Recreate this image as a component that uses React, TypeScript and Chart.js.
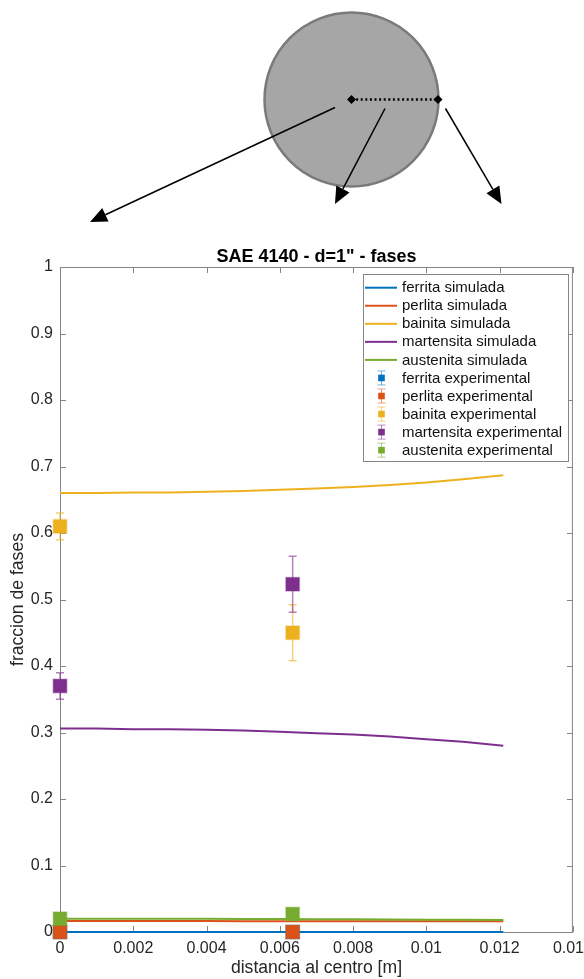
import { useEffect, useRef } from 'react';
import { Chart, registerables } from 'chart.js';

Chart.register(...registerables);

// Simulated phase fractions along the radius [m]
const distSim = [0, 0.001, 0.002, 0.003, 0.004, 0.005, 0.006, 0.007, 0.008, 0.009, 0.01, 0.011, 0.0121];
const ferritaSim = [0, 0, 0, 0, 0, 0, 0, 0, 0, 0, 0, 0, 0];
const perlitaSim = [0.0165, 0.0165, 0.0165, 0.0164, 0.0164, 0.0163, 0.0163, 0.0162, 0.0162, 0.0161, 0.016, 0.016, 0.016];
const bainitaSim = [0.66, 0.66, 0.661, 0.661, 0.662, 0.663, 0.665, 0.667, 0.669, 0.672, 0.676, 0.681, 0.687];
const martensitaSim = [0.306, 0.306, 0.305, 0.305, 0.304, 0.303, 0.301, 0.299, 0.297, 0.294, 0.29, 0.286, 0.28];
const austenitaSim = [0.02, 0.02, 0.02, 0.02, 0.0198, 0.0196, 0.0194, 0.0192, 0.019, 0.0188, 0.0186, 0.0184, 0.018];

// Measured phase fractions with their uncertainty
const distExp = [0, 0.00635];
const ferritaExp = [0, 0];
const perlitaExp = [0, 0];
const bainitaExp = [0.61, 0.45];
const martensitaExp = [0.37, 0.523];
const austenitaExp = [0.02, 0.027];
const ferritaErr = [0, 0];
const perlitaErr = [0, 0];
const bainitaErr = [0.02, 0.042];
const martensitaErr = [0.02, 0.042];
const austenitaErr = [0, 0];

const phaseNames = ['ferrita', 'perlita', 'bainita', 'martensita', 'austenita'];
const phaseColors = ['#0072BD', '#D95319', '#EDB120', '#7E2F8E', '#77AC30'];

const xTickValues = [0, 0.002, 0.004, 0.006, 0.008, 0.01, 0.012, 0.014];
const xTickLabels = ['0', '0.002', '0.004', '0.006', '0.008', '0.01', '0.012', '0.014'];
const yTickValues = [0, 0.1, 0.2, 0.3, 0.4, 0.5, 0.6, 0.7, 0.8, 0.9, 1];
const yTickLabels = ['0', '0.1', '0.2', '0.3', '0.4', '0.5', '0.6', '0.7', '0.8', '0.9', '1'];

const titleText = 'SAE 4140 - d=1" - fases';
const xTitle = 'distancia al centro [m]';
const yTitle = 'fraccion de fases';

const FONT = '"Liberation Sans", Arial, Helvetica, sans-serif';
const TEXT = '#262626';
const AXIS = '#858585';

function rgba(hex: string, a: number) {
  const n = parseInt(hex.slice(1), 16);
  return `rgba(${(n >> 16) & 255},${(n >> 8) & 255},${n & 255},${a})`;
}

function drawArrow(ctx: CanvasRenderingContext2D, x1: number, y1: number, x2: number, y2: number) {
  const len = 17;
  const half = 7.5;
  const dx = x2 - x1;
  const dy = y2 - y1;
  const d = Math.hypot(dx, dy);
  const ux = dx / d;
  const uy = dy / d;
  const bx = x2 - ux * len;
  const by = y2 - uy * len;
  ctx.beginPath();
  ctx.moveTo(x1, y1);
  ctx.lineTo(bx, by);
  ctx.strokeStyle = '#000';
  ctx.lineWidth = 1.5;
  ctx.stroke();
  ctx.beginPath();
  ctx.moveTo(x2, y2);
  ctx.lineTo(bx - uy * half, by + ux * half);
  ctx.lineTo(bx + uy * half, by - ux * half);
  ctx.closePath();
  ctx.fillStyle = '#000';
  ctx.fill();
}

function drawDiamond(ctx: CanvasRenderingContext2D, x: number, y: number, r: number) {
  ctx.beginPath();
  ctx.moveTo(x, y - r);
  ctx.lineTo(x + r, y);
  ctx.lineTo(x, y + r);
  ctx.lineTo(x - r, y);
  ctx.closePath();
  ctx.fillStyle = '#000';
  ctx.fill();
}

// Cross-section sketch above the axes: bar section, radius and pointer arrows
const sketchPlugin = {
  id: 'sketch',
  beforeDraw(chart: any) {
    const ctx: CanvasRenderingContext2D = chart.ctx;
    ctx.save();
    ctx.fillStyle = '#fff';
    ctx.fillRect(0, 0, chart.width, chart.height);
    const cx = 351.5;
    const cy = 99.5;
    ctx.beginPath();
    ctx.arc(cx, cy, 87, 0, Math.PI * 2);
    ctx.fillStyle = '#a6a6a6';
    ctx.fill();
    ctx.lineWidth = 2.5;
    ctx.strokeStyle = '#7a7a7a';
    ctx.stroke();
    ctx.beginPath();
    ctx.setLineDash([2, 2.6]);
    ctx.moveTo(cx, cy);
    ctx.lineTo(438, cy);
    ctx.lineWidth = 2.5;
    ctx.strokeStyle = '#000';
    ctx.stroke();
    ctx.setLineDash([]);
    drawDiamond(ctx, cx, cy, 4.5);
    drawDiamond(ctx, 438, cy, 4.5);
    drawArrow(ctx, 335, 107.5, 90, 222);
    drawArrow(ctx, 385, 108.5, 335, 204);
    drawArrow(ctx, 445.5, 108.5, 501.5, 204);
    ctx.restore();
  },
};

// Axes box with inward ticks (under the data), title and legend (on top)
const framePlugin = {
  id: 'frame',
  beforeDatasetsDraw(chart: any) {
    const ctx: CanvasRenderingContext2D = chart.ctx;
    const { left, right, top, bottom } = chart.chartArea;
    const xs = chart.scales.x;
    const ys = chart.scales.y;
    ctx.save();
    ctx.strokeStyle = AXIS;
    ctx.lineWidth = 1;
    ctx.strokeRect(left + 0.5, top + 0.5, right - left - 1, bottom - top);
    const tl = 6;
    ctx.beginPath();
    xTickValues.forEach((v) => {
      const px = Math.round(xs.getPixelForValue(v)) + 0.5;
      ctx.moveTo(px, bottom);
      ctx.lineTo(px, bottom - tl);
      ctx.moveTo(px, top);
      ctx.lineTo(px, top + tl);
    });
    yTickValues.forEach((v) => {
      const py = Math.round(ys.getPixelForValue(v)) + 0.5;
      ctx.moveTo(left, py);
      ctx.lineTo(left + tl, py);
      ctx.moveTo(right, py);
      ctx.lineTo(right - tl, py);
    });
    ctx.stroke();
    ctx.restore();
  },
  afterDraw(chart: any) {
    const ctx: CanvasRenderingContext2D = chart.ctx;
    const { left, right, top } = chart.chartArea;
    ctx.save();
    ctx.fillStyle = '#000';
    ctx.font = `bold 18px ${FONT}`;
    ctx.textAlign = 'center';
    ctx.textBaseline = 'alphabetic';
    ctx.fillText(titleText, (left + right) / 2, top - 5);

    // legend
    const lx = 363.5;
    const ly = 274.5;
    const lw = 205;
    const lh = 187;
    ctx.fillStyle = '#fff';
    ctx.fillRect(lx, ly, lw, lh);
    ctx.strokeStyle = AXIS;
    ctx.lineWidth = 1;
    ctx.strokeRect(lx, ly, lw, lh);
    ctx.font = `15px ${FONT}`;
    ctx.textAlign = 'left';
    ctx.textBaseline = 'middle';
    const rowH = 18.05;
    const y0 = 287.7;
    phaseNames.forEach((name, i) => {
      const y = y0 + i * rowH;
      ctx.beginPath();
      ctx.moveTo(365, y);
      ctx.lineTo(397, y);
      ctx.strokeStyle = phaseColors[i];
      ctx.lineWidth = 2;
      ctx.stroke();
      ctx.fillStyle = '#111';
      ctx.fillText(`${name} simulada`, 402, y + 0.5);
    });
    phaseNames.forEach((name, i) => {
      const y = y0 + (i + 5) * rowH;
      const mx = 381.5;
      ctx.beginPath();
      ctx.moveTo(mx, y - 7);
      ctx.lineTo(mx, y + 7);
      ctx.moveTo(mx - 4, y - 7);
      ctx.lineTo(mx + 4, y - 7);
      ctx.moveTo(mx - 4, y + 7);
      ctx.lineTo(mx + 4, y + 7);
      ctx.strokeStyle = rgba(phaseColors[i], 0.55);
      ctx.lineWidth = 1;
      ctx.stroke();
      ctx.fillStyle = phaseColors[i];
      ctx.fillRect(mx - 3.3, y - 3.3, 6.6, 6.6);
      ctx.fillStyle = '#111';
      ctx.fillText(`${name} experimental`, 402, y + 0.5);
    });
    ctx.restore();
  },
};

// Vertical error bars drawn just before each measured series
const errorBarPlugin = {
  id: 'errorBars',
  beforeDatasetDraw(chart: any, args: any) {
    const ds = chart.data.datasets[args.index];
    if (!ds.errors) return;
    const ctx: CanvasRenderingContext2D = chart.ctx;
    const xs = chart.scales.x;
    const ys = chart.scales.y;
    ctx.save();
    ctx.strokeStyle = rgba(ds.baseColor, 0.6);
    ctx.lineWidth = 1.5;
    ds.data.forEach((p: any, i: number) => {
      const e = ds.errors[i];
      if (!e) return;
      const px = xs.getPixelForValue(p.x);
      const yt = ys.getPixelForValue(p.y + e);
      const yb = ys.getPixelForValue(p.y - e);
      ctx.beginPath();
      ctx.moveTo(px, yt);
      ctx.lineTo(px, yb);
      ctx.moveTo(px - 4, yt);
      ctx.lineTo(px + 4, yt);
      ctx.moveTo(px - 4, yb);
      ctx.lineTo(px + 4, yb);
      ctx.stroke();
    });
    ctx.restore();
  },
};

export default function App() {
  const ref = useRef<HTMLCanvasElement | null>(null);

  useEffect(() => {
    if (!ref.current) return;
    const sims = [ferritaSim, perlitaSim, bainitaSim, martensitaSim, austenitaSim];
    const exps = [ferritaExp, perlitaExp, bainitaExp, martensitaExp, austenitaExp];
    const errs = [ferritaErr, perlitaErr, bainitaErr, martensitaErr, austenitaErr];

    const simSets = sims.map((vals, i) => ({
      type: 'line',
      label: `${phaseNames[i]} simulada`,
      data: distSim.map((x, k) => ({ x, y: vals[k] })),
      borderColor: phaseColors[i],
      backgroundColor: phaseColors[i],
      borderWidth: 2,
      pointRadius: 0,
      tension: 0,
      clip: false,
      order: 20 - i,
    }));
    const expSets = exps.map((vals, i) => ({
      type: 'line',
      label: `${phaseNames[i]} experimental`,
      data: distExp.map((x, k) => ({ x, y: vals[k] })),
      errors: errs[i],
      baseColor: phaseColors[i],
      showLine: false,
      pointStyle: 'rect',
      pointRadius: 9.6,
      pointBackgroundColor: phaseColors[i],
      pointBorderColor: rgba(phaseColors[i], 0.35),
      pointBorderWidth: 1.5,
      clip: false,
      order: 15 - i,
    }));

    const chart = new Chart(ref.current, {
      type: 'line',
      data: { datasets: [...simSets, ...expSets] as any },
      options: {
        animation: false,
        responsive: false,
        events: [],
        layout: { padding: { top: 267, left: 0, right: 7, bottom: 0 } },
        plugins: {
          legend: { display: false },
          title: { display: false },
          tooltip: { enabled: false },
        },
        scales: {
          x: {
            type: 'linear',
            min: 0,
            max: 0.014,
            grid: { display: false, drawTicks: false },
            border: { display: false },
            ticks: {
              padding: 7,
              color: TEXT,
              font: { family: FONT, size: 16 },
              maxRotation: 0,
              autoSkip: false,
              callback: (v: any) => {
                const k = xTickValues.findIndex((t) => Math.abs(t - Number(v)) < 1e-9);
                return k >= 0 ? xTickLabels[k] : '';
              },
            },
            afterBuildTicks: (s: any) => {
              s.ticks = xTickValues.map((value) => ({ value }));
            },
            afterFit: (s: any) => {
              s.height = 47;
              s.paddingLeft = 0;
              s.paddingRight = 0;
            },
            title: {
              display: true,
              text: xTitle,
              color: TEXT,
              font: { family: FONT, size: 17.6 },
              padding: { top: 0, bottom: 0 },
            },
          },
          y: {
            type: 'linear',
            min: 0,
            max: 1,
            grid: { display: false, drawTicks: false },
            border: { display: false },
            ticks: {
              padding: 7,
              color: TEXT,
              font: { family: FONT, size: 16 },
              autoSkip: false,
              callback: (v: any) => {
                const k = yTickValues.findIndex((t) => Math.abs(t - Number(v)) < 1e-9);
                return k >= 0 ? yTickLabels[k] : '';
              },
            },
            afterBuildTicks: (s: any) => {
              s.ticks = yTickValues.map((value) => ({ value }));
            },
            afterFit: (s: any) => {
              s.width = 60;
              s.paddingTop = 0;
              s.paddingBottom = 0;
            },
            title: {
              display: true,
              text: yTitle,
              color: TEXT,
              font: { family: FONT, size: 17.6 },
              padding: { top: 8, bottom: 0 },
            },
          },
        },
      },
      plugins: [sketchPlugin, errorBarPlugin, framePlugin],
    } as any);

    return () => chart.destroy();
  }, []);

  return (
    <div style={{ position: 'fixed', left: 0, top: 0, width: 584, height: 979, background: '#fff' }}>
      <canvas ref={ref} width={584} height={979} style={{ display: 'block', width: 584, height: 979 }} />
    </div>
  );
}
